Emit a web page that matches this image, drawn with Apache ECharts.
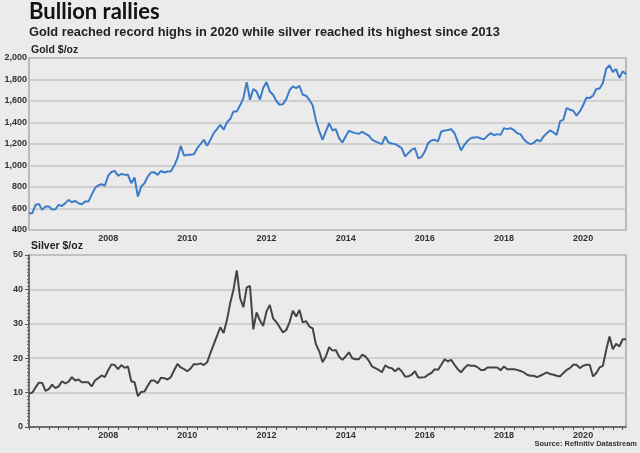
<!DOCTYPE html>
<html>
<head>
<meta charset="utf-8">
<script src="https://cdn.jsdelivr.net/npm/echarts@6/dist/echarts.min.js"></script>
<style>
html,body{margin:0;padding:0;background:#ebebeb;}
#c{width:640px;height:453px;}
</style>
</head>
<body>
<div id="c"></div>
<script>
// Monthly categories Jan 2006 .. Feb 2021
const months = [];
for (let y = 2006; y <= 2021; y++) {
  for (let m = 1; m <= 12; m++) {
    if (y === 2021 && m > 2) break;
    months.push(y + '-' + (m < 10 ? '0' + m : m));
  }
}
const yearLabelIdx = [24, 48, 72, 96, 120, 144, 168]; // 2008 .. 2020

const gold = [
  556,556,633,643,587,618,618,590,593,633,624,650,
  680,658,671,649,640,664,664,727,790,815,826,813,
  904,940,950,904,922,913,913,835,888,711,804,835,
  897,935,938,913,950,935,944,944,997,1068,1183,1093,
  1099,1100,1105,1161,1200,1239,1183,1239,1301,1338,1379,1332,
  1400,1432,1503,1503,1560,1627,1776,1612,1711,1689,1612,1720,
  1776,1689,1658,1600,1565,1571,1618,1700,1736,1720,1742,1658,
  1649,1610,1560,1420,1320,1239,1317,1394,1326,1338,1255,1214,
  1270,1323,1310,1301,1295,1314,1295,1279,1240,1224,1210,1199,
  1270,1214,1205,1199,1183,1161,1084,1115,1146,1161,1068,1078,
  1130,1208,1233,1239,1224,1317,1326,1330,1338,1300,1220,1140,
  1193,1230,1255,1260,1264,1251,1245,1276,1301,1282,1292,1285,
  1348,1338,1348,1330,1300,1292,1245,1215,1199,1210,1239,1224,
  1270,1301,1326,1307,1285,1410,1426,1534,1519,1509,1463,1503,
  1560,1630,1627,1650,1711,1717,1767,1900,1932,1870,1897,1814,
  1876,1850
];

const silver = [
  9.7,10.0,11.5,12.9,12.8,10.5,11.0,12.3,11.3,11.8,13.3,12.7,
  13.2,14.5,13.5,13.8,13.0,13.0,13.0,11.8,13.5,14.2,15.0,14.5,
  16.5,18.2,18.0,16.8,18.0,17.2,17.6,13.3,13.0,9.0,10.2,10.3,
  12.0,13.5,13.5,12.7,14.3,14.2,13.8,14.5,16.5,18.3,17.3,16.8,
  16.2,17.0,18.3,18.2,18.5,18.0,18.8,21.5,24.0,26.5,29.0,27.3,
  31.0,36.0,40.0,45.5,37.5,34.8,40.6,41.0,28.4,33.3,31.0,29.4,
  33.6,35.5,31.6,30.5,29.0,27.5,28.2,30.5,33.8,32.1,34.0,30.4,
  30.8,29.2,28.7,24.0,22.0,18.8,20.5,23.2,22.2,22.4,20.5,19.5,
  20.5,21.7,20.0,19.7,19.7,21.0,20.5,19.3,17.6,17.1,16.6,15.9,
  17.9,17.3,17.1,16.2,17.1,16.2,14.7,14.7,15.2,16.2,14.4,14.4,
  14.5,15.2,15.7,16.8,16.6,18.1,19.7,19.1,19.5,18.1,16.8,15.9,
  17.1,18.0,17.8,17.8,17.4,16.6,16.6,17.3,17.3,17.3,17.3,16.5,
  17.6,16.8,16.8,16.8,16.6,16.3,15.9,15.2,14.9,14.9,14.5,14.9,
  15.4,15.9,15.4,15.2,14.9,14.7,15.7,16.6,17.1,18.1,18.1,17.1,
  17.8,18.1,18.1,14.7,15.7,17.3,17.8,22.4,26.3,22.6,24.2,23.4,
  25.5,25.5
];

const titleText = 'Bullion rallies';
const subtitleText = 'Gold reached record highs in 2020 while silver reached its highest since 2013';
const goldUnit = 'Gold $/oz';
const silverUnit = 'Silver $/oz';
const sourceText = 'Source: Refinitiv Datastream';

const chart = echarts.init(document.getElementById('c'), null, {renderer: 'canvas'});
const labelStyle = {fontFamily: 'Liberation Sans', fontWeight: 'bold', fontSize: 9, color: '#333'};
const yearLabel = {
  ...labelStyle,
  interval: (i) => yearLabelIdx.indexOf(i) >= 0,
  formatter: (v) => v.slice(0, 4),
  margin: 4
};
const grid = '#c6c6c6';

chart.setOption({
  backgroundColor: '#ebebeb',
  animation: false,
  graphic: [
    {type: 'text', left: 29, top: 1, style: {text: titleText, font: 'bold 22px Lato', fill: '#111'}},
    {type: 'text', left: 29, top: 26, style: {text: subtitleText, font: 'bold 12.8px "Liberation Sans"', fill: '#222'}},
    {type: 'text', left: 31, top: 45, style: {text: goldUnit, font: 'bold 10.5px "Liberation Sans"', fill: '#222'}},
    {type: 'text', left: 31, top: 241, style: {text: silverUnit, font: 'bold 10.5px "Liberation Sans"', fill: '#222'}},
    {type: 'text', right: 3, top: 440, style: {text: sourceText, font: 'bold 7.5px "Liberation Sans"', fill: '#333'}}
  ],
  grid: [
    {left: 29, top: 58, width: 597, height: 172, show: true, borderColor: '#a9a9a9', borderWidth: 1.5, backgroundColor: 'transparent'},
    {left: 29, top: 255, width: 597, height: 172, show: true, borderColor: '#a9a9a9', borderWidth: 1.5, backgroundColor: 'transparent'}
  ],
  xAxis: [
    {type: 'category', gridIndex: 0, data: months, boundaryGap: false,
     axisLine: {show: false}, axisTick: {show: false}, axisLabel: yearLabel, splitLine: {show: false}},
    {type: 'category', gridIndex: 1, data: months, boundaryGap: false,
     axisLine: {show: true, lineStyle: {color: '#555', width: 1.5}},
     axisTick: {show: true, interval: (i) => i % 3 === 0, length: 3, lineStyle: {color: '#555'}},
     axisLabel: yearLabel, splitLine: {show: false}}
  ],
  yAxis: [
    {type: 'value', gridIndex: 0, min: 400, max: 2000, interval: 200,
     axisLine: {show: false}, axisTick: {show: false},
     axisLabel: {...labelStyle, margin: 2, formatter: (v) => v.toLocaleString('en-US')},
     splitLine: {lineStyle: {color: grid, width: 1.5}}},
    {type: 'value', gridIndex: 1, min: 0, max: 50, interval: 10,
     axisLine: {show: true, lineStyle: {color: '#555', width: 1.5}},
     axisTick: {show: true, length: 4, lineStyle: {color: '#555'}},
     minorTick: {show: true, splitNumber: 10, length: 2, lineStyle: {color: '#666'}},
     axisLabel: {...labelStyle, margin: 6},
     splitLine: {lineStyle: {color: grid, width: 1.5}}}
  ],
  series: [
    {type: 'line', xAxisIndex: 0, yAxisIndex: 0, data: gold, showSymbol: false,
     lineStyle: {color: '#3d7cc9', width: 2}},
    {type: 'line', xAxisIndex: 1, yAxisIndex: 1, data: silver, showSymbol: false,
     lineStyle: {color: '#444', width: 2}}
  ]
});
</script>
</body>
</html>
